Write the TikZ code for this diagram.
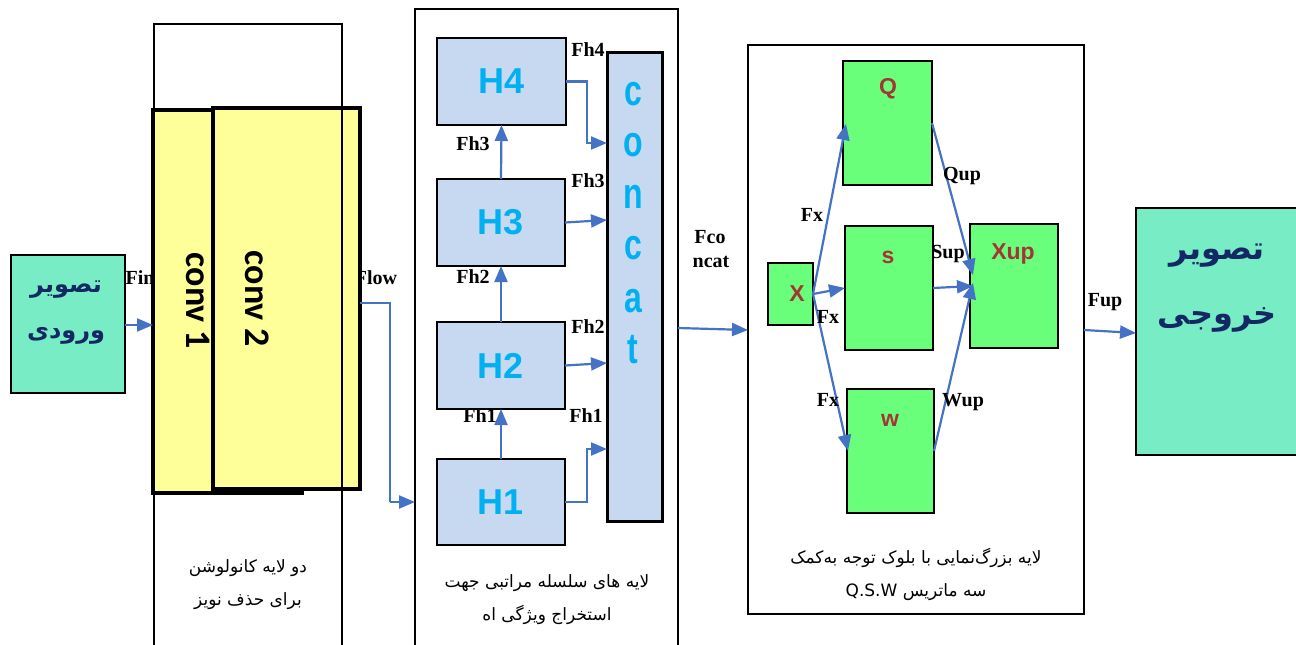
\documentclass[tikz,border=0pt]{standalone}
\usepackage{fontspec}
\setmainfont{Liberation Serif}
\newfontfamily\lsans{Liberation Sans}
\newfontfamily\carl{Carlito}
\newfontfamily\fa[Script=Arabic]{DejaVu Sans}
\TeXXeTstate=1
\usetikzlibrary{arrows.meta,calc}
\definecolor{tealbox}{RGB}{119,236,197}
\definecolor{yel}{RGB}{255,255,153}
\definecolor{hblue}{RGB}{198,217,241}
\definecolor{ggreen}{RGB}{105,255,122}
\definecolor{cyantext}{RGB}{0,176,240}
\definecolor{redtext}{RGB}{165,52,52}
\definecolor{navy}{RGB}{20,40,100}
\definecolor{arrblue}{RGB}{68,114,196}
\tikzset{
  box/.style={draw=black, inner sep=0pt, outer sep=0pt, anchor=north west},
  framebox/.style={box, line width=2pt},
  tealnode/.style={box, line width=2.5pt, fill=tealbox},
  convbox/.style={box, line width=4.5pt, fill=yel},
  hnode/.style={box, line width=2.5pt, fill=hblue, text=cyantext, font=\lsans\bfseries\fontsize{36}{36}\selectfont},
  gnode/.style={box, line width=2.5pt, fill=ggreen},
  lbl/.style={inner sep=0pt, font=\bfseries\fontsize{20}{20}\selectfont},
  gl/.style={inner sep=0pt, text=redtext, font=\lsans\bfseries\fontsize{23}{23}\selectfont},
  cl/.style={inner sep=0pt, text=cyantext, font=\lsans\bfseries\fontsize{32}{32}\selectfont},
  convtxt/.style={inner sep=0pt, rotate=-90, font=\carl\bfseries\fontsize{36}{36}\selectfont},
  fatitle/.style={inner sep=0pt, text=navy, font=\fa\bfseries\fontsize{24}{24}\selectfont},
  fabig/.style={inner sep=0pt, text=navy, font=\fa\bfseries\fontsize{32}{32}\selectfont},
  facap/.style={inner sep=0pt, align=center, font=\fa\fontsize{17}{33}\selectfont},
  arr/.style={draw=arrblue, line width=2.2pt, -{Triangle[length=16pt,width=13pt]}},
}
\begin{document}
\begin{tikzpicture}[x=1pt,y=-1pt]
\useasboundingbox (0,0) rectangle (1296,645);
\clip (0,0) rectangle (1296,645);
\fill[white] (0,0) rectangle (1296,645);

% ---------- input ----------
\node[tealnode, minimum width=114, minimum height=138] (in) at (11,255) {};
\node[fatitle] (inT1) at (66,290) {\beginR تصویر\endR};
\node[fatitle] (inT2) at (66,336) {\beginR ورودی\endR};

% labels partly covered by conv boxes
\node[lbl] (fin) at (140,278) {Fin};
\node[lbl] (flow) at (376,278) {Flow};

% ---------- conv block ----------
\node[convbox, minimum width=149, minimum height=383] (conv1) at (153,110) {};
\node[convbox, minimum width=147, minimum height=381] (conv2) at (213,108) {};
\node[convtxt] (c1t) at (198,301) {conv 1};
\node[convtxt] (c2t) at (257,299) {conv 2};
\node[framebox, minimum width=188, minimum height=640] (convframe) at (154,24) {};
\node[facap] (convcap) at (248,585) {\beginR دو لایه کانولوشن\endR\\\beginR برای حذف نویز\endR};

\draw[arr] (in.east |- 0,325) -- (conv1.west |- 0,325);

% ---------- hierarchical block ----------
\node[framebox, minimum width=263, minimum height=660] (hframe) at (415,9) {};
\node[hnode, minimum width=129, minimum height=87] (H4) at (437,38) {H4};
\node[hnode, minimum width=128, minimum height=87] (H3) at (437,179) {H3};
\node[hnode, minimum width=128, minimum height=87] (H2) at (437,322) {H2};
\node[hnode, minimum width=128, minimum height=86] (H1) at (437,459) {H1};
\node[box, line width=3pt, fill=hblue, minimum width=55, minimum height=469] (concat) at (607,52) {};
\node[cl] (lc1) at (633,94) {\scalebox{1}[1.35]{c}};
\node[cl] (lo) at (633,145) {\scalebox{1}[1.35]{o}};
\node[cl] (ln) at (633,197) {\scalebox{1}[1.35]{n}};
\node[cl] (lc2) at (633,248) {\scalebox{1}[1.35]{c}};
\node[cl] (la) at (633,301) {\scalebox{1}[1.35]{a}};
\node[cl] (lt) at (633,350) {\scalebox{1}[1.35]{t}};
\node[facap] (hcap) at (547,600) {\beginR لایه های سلسله مراتبی جهت\endR\\\beginR استخراج ویژگی اه\endR};

\draw[draw=arrblue, line width=2.2pt] (conv2.east |- 0,303) -| (390,502) coordinate (flowc);
\draw[arr] (flowc) -- (hframe.west |- 0,502);

\draw[arr] (H1.north) -- (H2.south);
\draw[arr] (H2.north) -- (H3.south);
\draw[arr] (H3.north) -- (H4.south);
\draw[arr] (H4.east) -| (587,143) -- (concat.west |- 0,143);
\draw[arr] (H3.east) -- (concat.west |- 0,220);
\draw[arr] (H2.east) -- (concat.west |- 0,363);
\draw[arr] (H1.east) -| (587,449) -- (concat.west |- 0,449);

\node[lbl] (lfh4) at (588,50) {Fh4};
\node[lbl] (lfh3a) at (473,144) {Fh3};
\node[lbl] (lfh3b) at (588,181) {Fh3};
\node[lbl] (lfh2a) at (473,277) {Fh2};
\node[lbl] (lfh2b) at (588,327) {Fh2};
\node[lbl] (lfh1a) at (480,416) {Fh1};
\node[lbl] (lfh1b) at (586,416) {Fh1};

\node[lbl] (fco) at (710,237) {Fco};
\node[lbl] (ncat) at (711,262) {ncat};

% ---------- attention block ----------
\node[framebox, minimum width=336, minimum height=569] (aframe) at (748,45) {};
\draw[arr] (hframe.east |- 0,328) -- (aframe.west |- 0,330);

\node[gnode, minimum width=45, minimum height=62] (X) at (768,263) {};
\node[gnode, minimum width=89, minimum height=124] (Q) at (843,61) {};
\node[gnode, minimum width=88, minimum height=124] (S) at (845,226) {};
\node[gnode, minimum width=87, minimum height=124] (W) at (847,389) {};
\node[gnode, minimum width=88, minimum height=124] (Xup) at (970,224) {};
\node[gl] (lX) at (797,294) {X};
\node[gl] (lQ) at (888,89) {Q};
\node[gl] (lS) at (888,257) {s};
\node[gl] (lW) at (890,420) {w};
\node[gl] (lXup) at (1013,254) {Xup};

\draw[arr] (X.east) -- ($(Q.west)+(3,1)$);
\draw[arr] (X.east) -- (S.west);
\draw[arr] (X.east) -- ($(W.west)+(1,0)$);
\draw[arr] (Q.east) -- ($(Xup.west)+(3,-11)$);
\draw[arr] (S.east) -- ($(Xup.west)+(3,0)$);
\draw[arr] (W.east) -- ($(Xup.west)+(3,-3)$);

\node[lbl] (fx1) at (812,215) {Fx};
\node[lbl] (fx2) at (828,317) {Fx};
\node[lbl] (fx3) at (828,400) {Fx};
\node[lbl] (qup) at (962,176) {Qup};
\node[lbl] (sup) at (948,254) {Sup};
\node[lbl] (wup) at (963,402) {Wup};

\node[facap] (acap) at (916,574) {\beginR لایه بزرگ‌نمایی با بلوک توجه به‌کمک\endR\\\beginR سه ماتریس \beginL Q.S.W\endL\endR};

% ---------- output ----------
\node[tealnode, minimum width=180, minimum height=247] (out) at (1136,208) {};
\node[fabig] (outT1) at (1217,256) {\beginR تصویر\endR};
\node[fabig] (outT2) at (1217,320) {\beginR خروجی\endR};
\draw[arr] (aframe.east |- 0,330) -- (out.west |- 0,333);
\node[lbl] (fup) at (1105,302) {Fup};
\end{tikzpicture}
\end{document}
